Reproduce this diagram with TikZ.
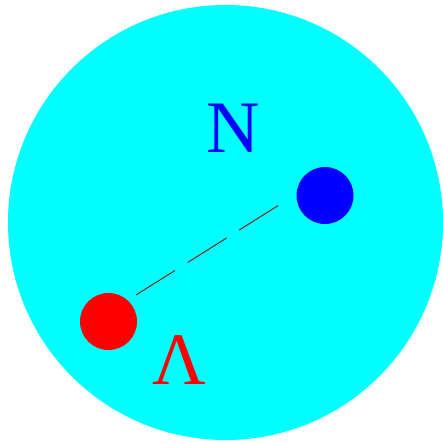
\documentclass[tikz,border=0pt]{standalone}
\usepackage{fontspec}
\setmainfont{Liberation Serif}
\definecolor{linkcol}{RGB}{128,20,20}
\definecolor{nucl}{RGB}{0,255,255}
\definecolor{nblue}{RGB}{0,0,255}
\definecolor{lred}{RGB}{255,0,0}
\begin{document}
\begin{tikzpicture}[x=1pt,y=-1pt,
  blob/.style={circle,inner sep=0pt,minimum size=57pt},
  lbl/.style={inner sep=0pt,font=\fontsize{74}{80}\selectfont},
  link/.style={draw=linkcol,line width=0.9pt,dash pattern=on 46pt off 15pt}]
\useasboundingbox (0,0) rectangle (443,443);
\node[circle,fill=nucl,inner sep=0pt,minimum size=435pt] (nuc) at (225.5,222.5) {};
\node[blob,fill=nblue] (nb) at (325,195.5) {};
\node[blob,fill=lred] (lb) at (108.5,321.5) {};
\node[lbl,text=nblue] (nl) at (233,128) {N};
\node[lbl,text=lred] (ll) at (179,360) {Λ};
\coordinate (a) at (136,295);
\coordinate (b) at (279,205);
\draw[link] (a) -- (b);
\end{tikzpicture}
\end{document}
